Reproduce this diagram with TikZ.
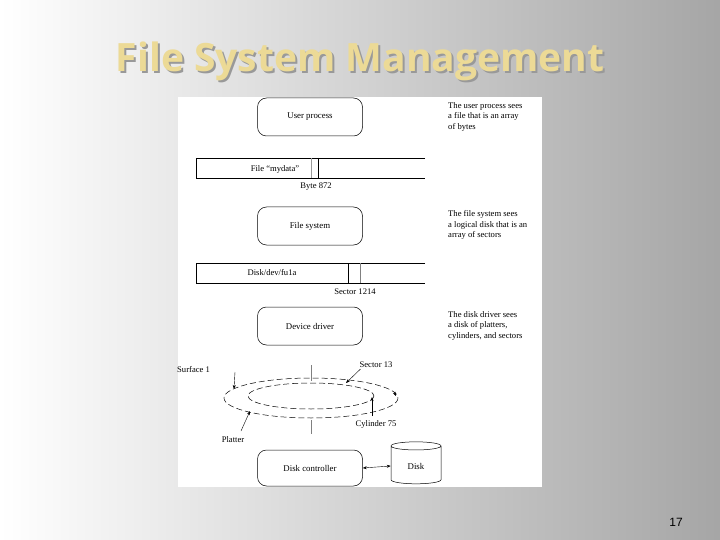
\documentclass[tikz,border=0pt]{standalone}
\usepackage{fontspec}
\setmainfont{Liberation Serif}
\newfontfamily\titlefont{Open Sans}
\newfontfamily\numfont{Liberation Sans}
\usetikzlibrary{arrows.meta,shapes.geometric}
\begin{document}
\begin{tikzpicture}[x=1pt,y=-1pt,
  proc/.style={draw,rounded corners=9pt,minimum width=105pt,minimum height=38pt,font=\fontsize{8.8}{10}\selectfont,line width=0.5pt},
  note/.style={anchor=north west,align=left,font=\fontsize{8.6}{10.8}\selectfont,inner sep=0pt},
  lbl/.style={font=\fontsize{8.6}{10}\selectfont,inner sep=1pt},
  bar/.style={line width=0.5pt},
  arr/.style={-{Stealth[length=4pt,width=3pt]},line width=0.4pt},
  dsh/.style={dashed,dash pattern=on 6pt off 3pt,line width=0.5pt}]
\useasboundingbox (0,0) rectangle (720,540);
\shade[left color=white,right color=black!35] (0,0) rectangle (720,540);
\node[font=\titlefont\bfseries\fontsize{39}{42}\selectfont,text=black!40] (shadow) at (362,63) {File System Management};
\node[font=\titlefont\bfseries\fontsize{39}{42}\selectfont,text={rgb,255:red,236;green,218;blue,150}] (title) at (360,61) {File System Management};
\fill[white] (178,97) rectangle (542,487);
% user process
\node[proc] (up) at (310,117) {User process};
\node[note] (n1) at (448,102) {The user process sees\\a file that is an array\\of bytes};
\draw[bar] (425,158) -- (196,158) -- (196,178) -- (425,178);
\draw[black!40] (311,158) -- (311,178);
\draw (318,158) -- (318,178);
\node[lbl] (f) at (275,169) {File ``mydata''};
\node[lbl] (b) at (316,187) {Byte 872};
% file system
\node[proc] (fs) at (310,226) {File system};
\node[note] (n2) at (448,210) {The file system sees\\a logical disk that is an\\array of sectors};
\draw[bar] (425,263) -- (196,263) -- (196,283) -- (425,283);
\draw (348,263) -- (348,283);
\draw[black!50,line width=0.8pt] (360,263) -- (360,283);
\node[lbl] (d) at (272,273) {Disk/dev/fu1a};
\node[lbl] (s) at (355,292) {Sector 1214};
% device driver
\node[proc] (dd) at (310,326) {Device driver};
\node[note] (n3) at (448,311) {The disk driver sees\\a disk of platters,\\cylinders, and sectors};
% platter
\draw[black!50] (311,365) -- (311,381);
\draw[black!50] (311,420) -- (311,434);
\draw[dsh] (311,398) ellipse [x radius=87,y radius=20];
\draw[dsh] (311,396) ellipse [x radius=63,y radius=13];
\node[lbl,anchor=west] (s1) at (176,370) {Surface 1};
\coordinate (s1a) at (235,372);
\coordinate (s1b) at (234,389);
\draw[arr] (s1a) -- (s1b);
\node[lbl] (s13) at (376,365) {Sector 13};
\coordinate (s13b) at (346,383);
\draw[arr] (s13.south west) ++(2,0) -- (s13b);
\node[lbl] (c75) at (376,424) {Cylinder 75};
\coordinate (c75b) at (372,397);
\draw[arr] (372,416) -- (c75b);
\coordinate (rt) at (396,396);
\draw[arr] (394,392) -- (rt);
\node[lbl] (pl) at (233,440) {Platter};
\coordinate (plb) at (250,411);
\draw[arr] (241,431) -- (plb);
% disk controller
\node[proc,minimum height=36pt] (dc) at (310,468) {Disk controller};
\node[cylinder,shape border rotate=90,draw,aspect=0.35,minimum width=50pt,minimum height=42pt,font=\fontsize{8.8}{10}\selectfont,line width=0.5pt] (disk) at (416,466) {Disk};
\draw[{Stealth[length=4pt,width=3pt]}-{Stealth[length=4pt,width=3pt]},line width=0.4pt] (dc.east) -- (disk.west);
\node[font=\numfont\fontsize{12}{14}\selectfont] (pg) at (676,522) {17};
\end{tikzpicture}
\end{document}
